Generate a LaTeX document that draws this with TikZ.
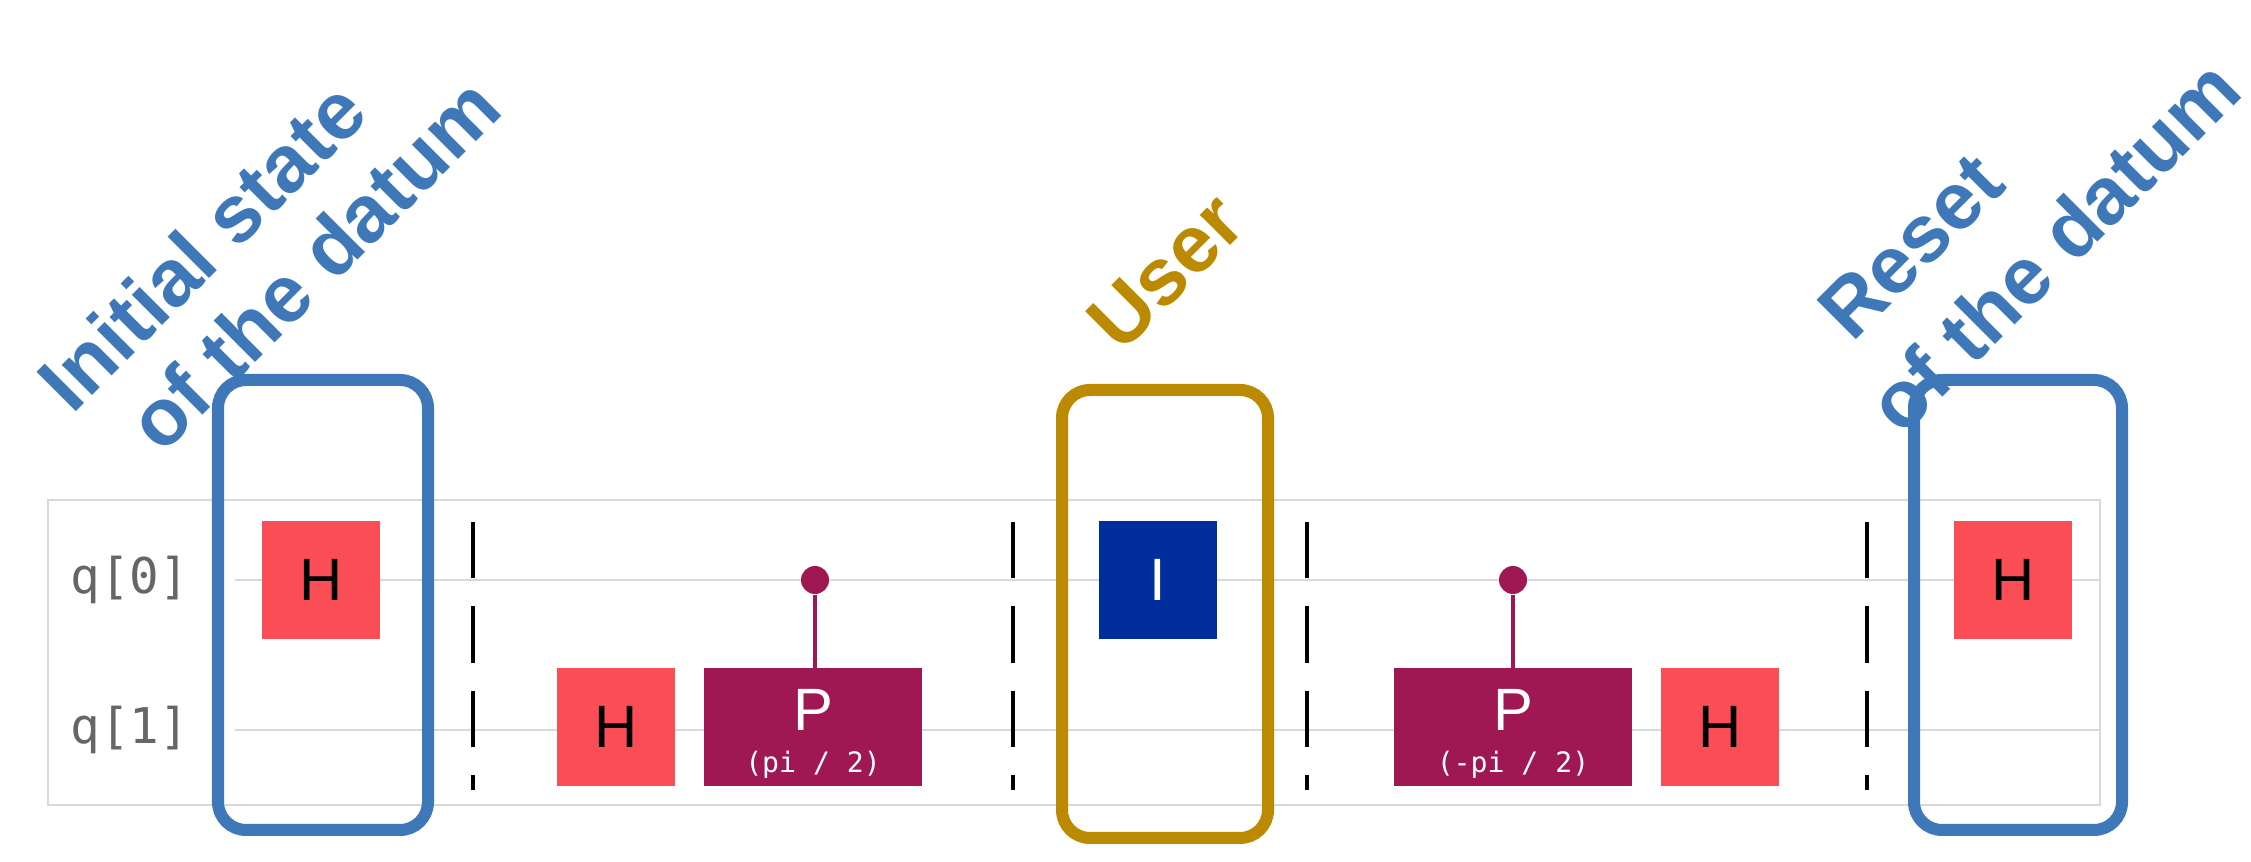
\documentclass[tikz,border=0pt]{standalone}
\usepackage{fontspec}
\setmainfont{Liberation Sans}
\newfontfamily\monof{DejaVu Sans Mono}
\definecolor{hred}{HTML}{FA4D56}
\definecolor{pmag}{HTML}{9F1853}
\definecolor{iblue}{HTML}{002D9C}
\definecolor{bbox}{HTML}{3F78B8}
\definecolor{gbox}{HTML}{BC8A00}
\begin{document}
\begin{tikzpicture}[x=0.01cm,y=-0.01cm,
  gate/.style={draw=none,minimum width=1.17cm,minimum height=1.17cm,inner sep=0,font=\fontsize{17}{17}\selectfont},
  hg/.style={gate,fill=hred,text=black},
  pg/.style={gate,fill=pmag,text=white,minimum height=1.17cm},
  frame/.style={rounded corners=0.28cm,line width=0.12cm},
  barrier/.style={line width=1.2pt,dash pattern=on 16pt off 8pt},
  lab/.style={font=\bfseries\fontsize{23}{23}\selectfont,rotate=45,anchor=base west,inner sep=0},
  wire/.style={draw=black!15,line width=0.8pt},
  ql/.style={text=black!60,font=\monof\fontsize{14}{14}\selectfont}]
\useasboundingbox (0,0) rectangle (2251,862);
\draw[black!15,line width=0.6pt] (48,500) rectangle (2100,805);
\coordinate (w0s) at (235,580); \coordinate (w0e) at (2100,580);
\coordinate (w1s) at (235,730); \coordinate (w1e) at (2100,730);
\draw[wire] (w0s) -- (w0e);
\draw[wire] (w1s) -- (w1e);
\node[ql] (q0) at (130,580) {q[0]};
\node[ql] (q1) at (130,730) {q[1]};
% barriers
\foreach \x/\n in {473/b1,1013/b2,1307/b3,1867/b4}{
  \coordinate (\n t) at (\x,522); \coordinate (\n b) at (\x,790);
  \draw[barrier] (\n t) -- (\n b);}
\node[hg] (h1) at (321,580) {H};
\node[hg] (h2) at (616,727) {H};
\node[pg,minimum width=2.17cm] (p1) at (813,727) {};
\node[white,font=\fontsize{17}{17}\selectfont] at (813,710) {P};
\node[white,font=\monof\fontsize{8}{8}\selectfont] at (813,765) {(pi / 2)};
\node[circle,fill=pmag,inner sep=0,minimum size=0.28cm] (c1) at (815,580) {};
\draw[pmag,line width=1.2pt] (c1) -- (p1.north-|c1);
\node[gate,fill=iblue,text=white] (ig) at (1158,580) {I};
\node[pg,minimum width=2.37cm] (p2) at (1513,727) {};
\node[white,font=\fontsize{17}{17}\selectfont] at (1513,710) {P};
\node[white,font=\monof\fontsize{8}{8}\selectfont] at (1513,765) {(-pi / 2)};
\node[circle,fill=pmag,inner sep=0,minimum size=0.28cm] (c2) at (1513,580) {};
\draw[pmag,line width=1.2pt] (c2) -- (p2.north-|c2);
\node[hg] (h3) at (1720,727) {H};
\node[hg] (h4) at (2013,580) {H};
% frames
\draw[frame,bbox] (218,380) rectangle (428,830);
\draw[frame,gbox] (1062,390) rectangle (1268,838);
\draw[frame,bbox] (1914,380) rectangle (2122,830);
\node[lab,text=bbox] (l1a) at (72,416) {Initial state};
\node[lab,text=bbox] (l1b) at (162,456) {of the datum};
\node[lab,text=gbox] (l2) at (1121,355) {User};
\node[lab,text=bbox] (l3a) at (1852,344) {Reset};
\node[lab,text=bbox] (l3b) at (1902,438) {of the datum};
\end{tikzpicture}
\end{document}
